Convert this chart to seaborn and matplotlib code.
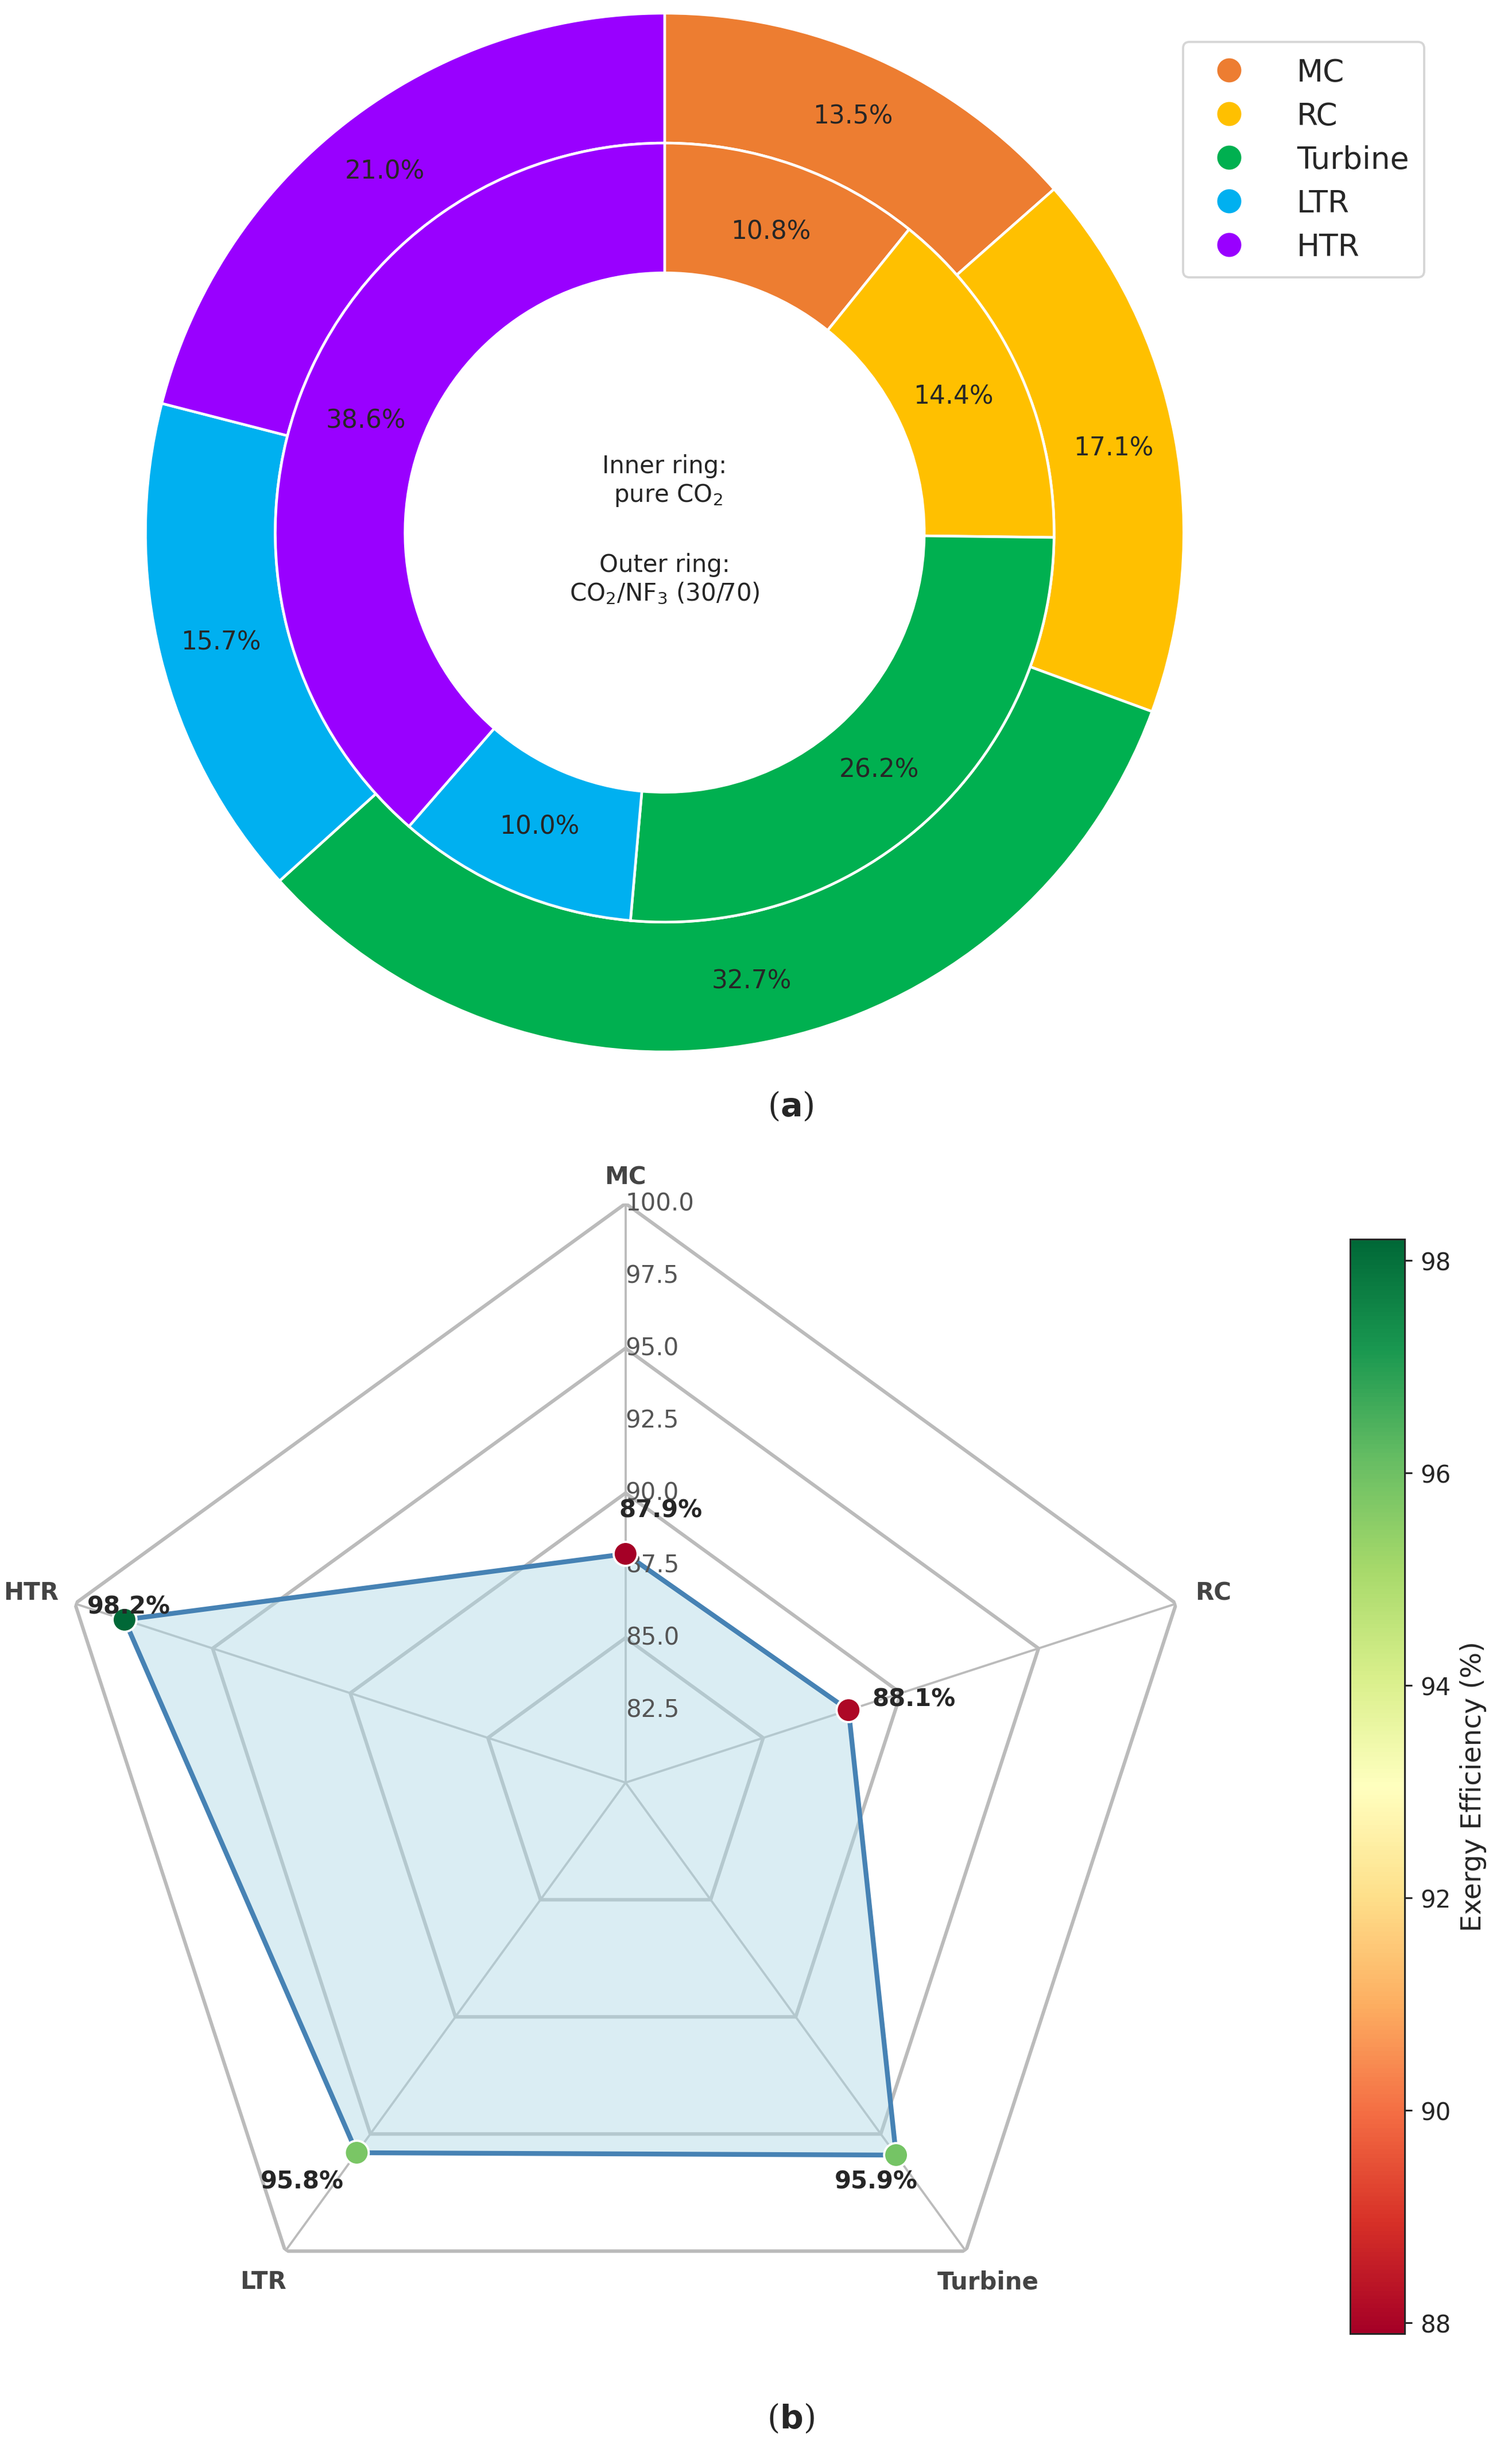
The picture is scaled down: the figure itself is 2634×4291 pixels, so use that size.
import numpy as np
import matplotlib
matplotlib.use("Agg")
import matplotlib.pyplot as plt
import seaborn as sns
from matplotlib.lines import Line2D
from matplotlib.colors import Normalize
from matplotlib.cm import ScalarMappable

sns.set_style("white")
plt.rcParams["mathtext.fontset"] = "dejavusans"

# --- data ---
components = ["MC", "RC", "Turbine", "LTR", "HTR"]
inner_pure_co2 = [10.8, 14.4, 26.2, 10.0, 38.6]
outer_co2_nf3 = [13.5, 17.1, 32.7, 15.7, 21.0]
exergy_eff = [87.9, 88.1, 95.9, 95.8, 98.2]
r_ticks = [82.5, 85.0, 87.5, 90.0, 92.5, 95.0, 97.5, 100.0]
grid_levels = [85.0, 90.0, 95.0, 100.0]
cbar_ticks = [88, 90, 92, 94, 96, 98]

colors = ["#ED7D31", "#FFC000", "#00B050", "#00B0F0", "#9900FF"]

fig = plt.figure(figsize=(9.6, 15.64), dpi=274.4)

# --- (a) donut ---
ax1 = fig.add_axes([0.0958, 0.573, 0.6875, 0.4215])
wp = dict(edgecolor="white", linewidth=1.2)
ax1.pie(outer_co2_nf3, radius=1.0, colors=colors, startangle=90, counterclock=False,
        wedgeprops=dict(width=0.25, **wp), autopct="%.1f%%", pctdistance=0.88,
        textprops=dict(fontsize=11.5))
ax1.pie(inner_pure_co2, radius=0.75, colors=colors, startangle=90, counterclock=False,
        wedgeprops=dict(width=0.25, **wp), autopct="%.1f%%", pctdistance=0.82,
        textprops=dict(fontsize=11.5))
ax1.set_xlim(-1, 1)
ax1.set_ylim(-1, 1)
ax1.set_aspect("equal")
ax1.text(0, 0.1, "Inner ring:\n pure CO$_2$", ha="center", va="center", fontsize=11)
ax1.text(0, -0.09, "Outer ring:\nCO$_2$/NF$_3$ (30/70)", ha="center", va="center", fontsize=11)

handles = [Line2D([], [], marker="o", linestyle="", markersize=10, color=c) for c in colors]
fig.legend(handles, components, loc="upper right", bbox_to_anchor=(0.952, 0.989),
           fontsize=14, handletextpad=1.2, borderpad=0.5, labelspacing=0.45)
fig.text(0.523, 0.551, r"($\mathbf{a}$)", ha="center", va="center", fontsize=15, family="serif")

# --- (b) radar ---
ax2 = fig.add_axes([0.0302, 0.0415, 0.767, 0.47], projection="polar")
ax2.set_theta_offset(np.pi / 2)
ax2.set_theta_direction(-1)
ax2.set_ylim(80, 100)
ax2.grid(False)
ax2.spines["polar"].set_visible(False)
ax2.set_xticks([])
ax2.set_yticks([])

angles = np.linspace(0, 2 * np.pi, len(components), endpoint=False)
closed = np.concatenate([angles, angles[:1]])
for lv in grid_levels:
    ax2.plot(closed, [lv] * len(closed), color="#bbbbbb", lw=1.6, zorder=1)
for a in angles:
    ax2.plot([a, a], [80, 100], color="#bbbbbb", lw=1.0, zorder=1)

vals = exergy_eff + exergy_eff[:1]
ax2.fill(closed, vals, color="#ADD8E6", alpha=0.45, zorder=2)
ax2.plot(closed, vals, color="#4682B4", lw=2.2, zorder=3)

cmap = plt.get_cmap("RdYlGn")
norm = Normalize(vmin=min(exergy_eff), vmax=max(exergy_eff))
ax2.scatter(angles, exergy_eff, c=exergy_eff, cmap=cmap, norm=norm, s=120,
            edgecolors="white", linewidths=1.0, zorder=4)

for rt in r_ticks:
    ax2.annotate(f"{rt:.1f}", (0, rt), xytext=(0, 0), textcoords="offset points",
                 fontsize=11, color="#555555", ha="left", va="center")

# label offsets in points
val_off = [(16, 20), (30, 5), (-9, -12), (-25, -13), (2, 6)]
for a, v, off in zip(angles, exergy_eff, val_off):
    ax2.annotate(f"{v:.1f}%", (a, v), xytext=off, textcoords="offset points",
                 fontsize=11, fontweight="bold", ha="center", va="center", zorder=5)

cat_off = [(0, 12), (17, 5), (10, -14), (-10, -14), (-20, 5)]
for a, name, off in zip(angles, components, cat_off):
    ax2.annotate(name, (a, 100), xytext=off, textcoords="offset points", fontsize=11,
                 fontweight="bold", color="#444444", ha="center", va="center")

cax = fig.add_axes([0.893, 0.053, 0.036, 0.444])
cb = fig.colorbar(ScalarMappable(norm=norm, cmap=cmap), cax=cax)
cb.set_ticks(cbar_ticks)
cb.set_label("Exergy Efficiency (%)", fontsize=12.5)
cb.ax.tick_params(labelsize=11)

fig.text(0.523, 0.0185, r"($\mathbf{b}$)", ha="center", va="center", fontsize=15, family="serif")

fig.savefig("out.png", dpi=274.4)
